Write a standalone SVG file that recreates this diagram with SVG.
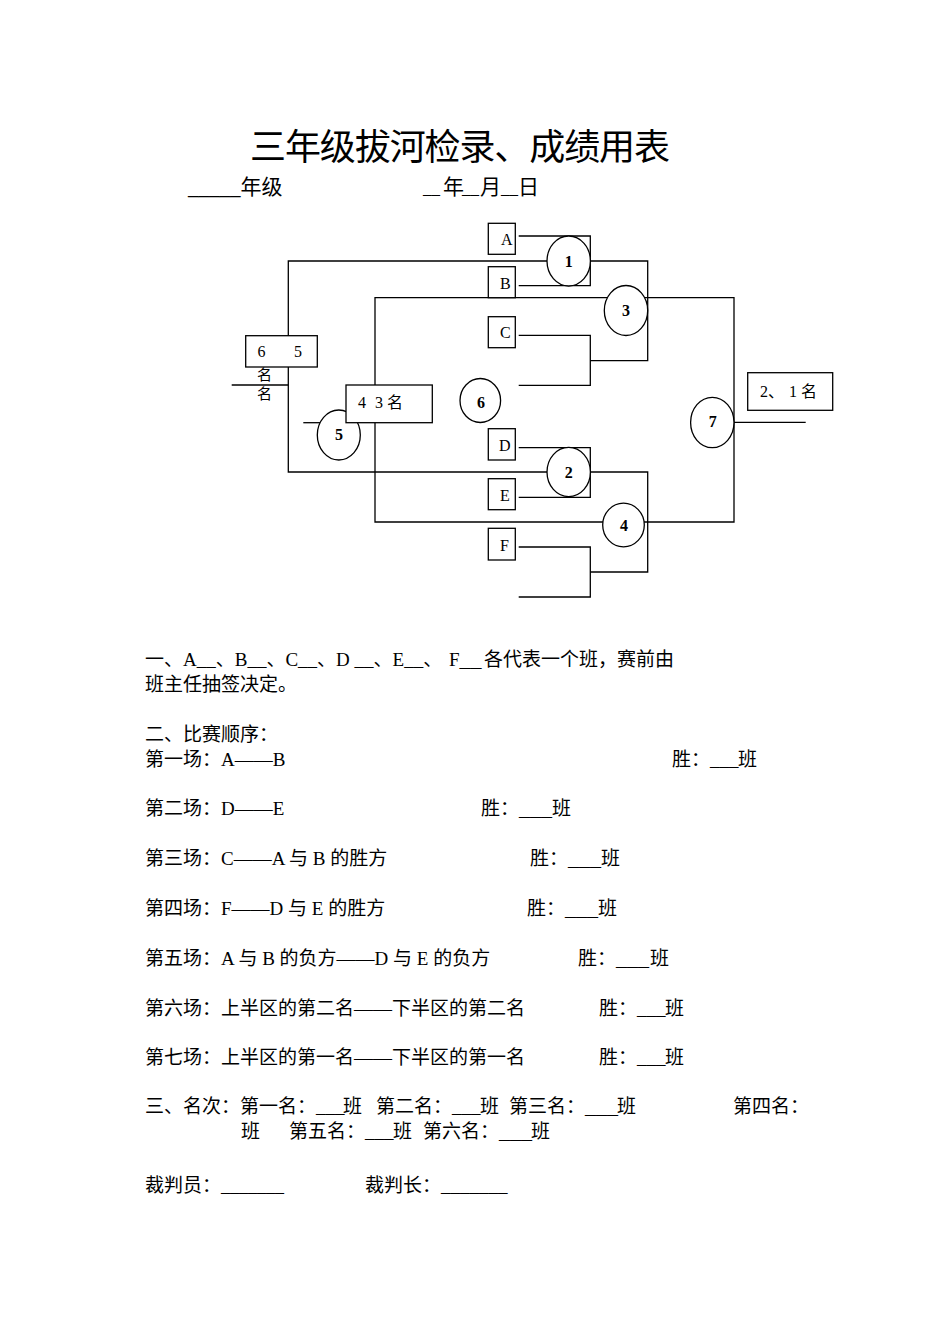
<svg xmlns="http://www.w3.org/2000/svg" width="950" height="1344" viewBox="0 0 950 1344">
<style>
.ln{fill:none;stroke:#000;stroke-width:1.3}
.bx{fill:#fff;stroke:#000;stroke-width:1.3}
.t{font-family:"Liberation Serif","Noto Sans CJK SC",serif;fill:#000}
.lbl{font-size:16px}
.num{font-size:16px;font-weight:bold;text-anchor:middle}
.body{font-size:19px}
</style>
<rect width="950" height="1344" fill="#fff"/>
<g id="header" class="t">
<text x="250" y="160" font-size="36" textLength="420" lengthAdjust="spacing">三年级拔河检录、成绩用表</text>
<text x="188" y="193.5" font-size="21">_____年级</text>
<text y="193.5" font-size="21"><tspan x="423" font-size="17">__</tspan><tspan x="443">年</tspan><tspan x="462" font-size="17">__</tspan><tspan x="480">月</tspan><tspan x="501" font-size="17">__</tspan><tspan x="518">日</tspan></text>
</g>
<g id="connectors" class="ln">
<path d="M518.7,236 H590.3 V285.7 H518.7"/>
<path d="M518.7,335.3 H590.3 V385.3 H518.7"/>
<path d="M590.3,360.7 H647.7 V261 H590.3"/>
<path d="M547,261 H288.3 V472 H547"/>
<path d="M231.7,385 H288.3"/>
<path d="M375,385 V297.7 H734 V522 H375 V422.7"/>
<path d="M734,422.3 H805.7"/>
<path d="M518.7,447.7 H590.3 V497.3 H518.7"/>
<path d="M590.3,472 H647.7 V572 H590.3"/>
<path d="M518.7,547 H590.3 V597 H518.7"/>
<path d="M303.3,422.7 H320"/>
</g>
<g id="team-A"><rect class="bx" x="488.3" y="223.3" width="27" height="31"/><text class="t lbl" x="501" y="245">A</text></g>
<g id="team-B"><rect class="bx" x="488.3" y="266.7" width="27" height="31"/><text class="t lbl" x="500" y="289">B</text></g>
<g id="team-C"><rect class="bx" x="488.3" y="316.7" width="27" height="31"/><text class="t lbl" x="500" y="338">C</text></g>
<g id="team-D"><rect class="bx" x="488.3" y="428.7" width="27" height="31.3"/><text class="t lbl" x="499" y="451">D</text></g>
<g id="team-E"><rect class="bx" x="488.3" y="478.7" width="27" height="31"/><text class="t lbl" x="500" y="501">E</text></g>
<g id="team-F"><rect class="bx" x="488.3" y="528.3" width="27" height="31.7"/><text class="t lbl" x="500" y="550.5">F</text></g>
<g id="match-1"><ellipse class="bx" cx="568.7" cy="261" rx="21.7" ry="25"/><text class="t num" x="568.7" y="266.5">1</text></g>
<g id="match-2"><ellipse class="bx" cx="568.7" cy="472" rx="21.7" ry="24.6"/><text class="t num" x="568.7" y="477.5">2</text></g>
<g id="match-3"><ellipse class="bx" cx="626" cy="310.5" rx="21.7" ry="25"/><text class="t num" x="626" y="316">3</text></g>
<g id="match-4"><ellipse class="bx" cx="623.5" cy="525" rx="20.8" ry="21.8"/><text class="t num" x="624" y="531">4</text></g>
<g id="match-6"><ellipse class="bx" cx="480.3" cy="400.5" rx="20.3" ry="22"/><text class="t num" x="481" y="408">6</text></g>
<g id="match-7"><ellipse class="bx" cx="712.3" cy="422.5" rx="21.7" ry="25.2"/><text class="t num" x="712.7" y="427">7</text></g>
<g id="match-5"><ellipse class="bx" cx="338.8" cy="435" rx="21.5" ry="25"/><text class="t num" x="339" y="440">5</text></g>
<g id="place-6-5"><rect class="bx" x="245.7" y="335.7" width="71.6" height="31.3"/><text class="t lbl" x="257.5" y="356.7">6<tspan x="294">5</tspan></text><text class="t" font-size="15" fill="#444" x="257" y="380">名</text><text class="t" font-size="15" fill="#444" x="257" y="399">名</text></g>
<g id="place-4-3"><rect class="bx" x="346" y="385" width="86.3" height="37.7"/><text class="t lbl" x="358" y="408">4 <tspan x="375">3 名</tspan></text></g>
<g id="place-2-1"><rect class="bx" x="747.7" y="372.7" width="85" height="37.6"/><text class="t lbl" x="760" y="396.5">2<tspan x="768">、</tspan><tspan x="789">1 名</tspan></text></g>
<g id="notes" class="t body">
<text y="666"><tspan x="145">一、A__、B__、C__、D __、E__、</tspan><tspan x="449">F</tspan><tspan font-size="22">__</tspan><tspan x="484">各代表一个班，赛前由</tspan></text>
<text x="145" y="691">班主任抽签决定。</text>
<text x="145" y="741">二、比赛顺序：</text>
<text x="145" y="766">第一场：A——B<tspan x="672">胜：___</tspan><tspan x="738">班</tspan></text>
<text x="145" y="815">第二场：D——E<tspan x="481">胜：</tspan><tspan font-size="22">___</tspan><tspan x="552">班</tspan></text>
<text x="145" y="865">第三场：C——A 与 B 的胜方<tspan x="530">胜：</tspan><tspan font-size="22">___</tspan><tspan x="601">班</tspan></text>
<text x="145" y="915">第四场：F——D 与 E 的胜方<tspan x="527">胜：</tspan><tspan font-size="22">___</tspan><tspan x="598">班</tspan></text>
<text x="145" y="965">第五场：A 与 B 的负方——D 与 E 的负方<tspan x="578">胜：</tspan><tspan font-size="22">___</tspan><tspan x="650">班</tspan></text>
<text x="145" y="1015">第六场：上半区的第二名——下半区的第二名<tspan x="599">胜：___</tspan><tspan x="665">班</tspan></text>
<text x="145" y="1064">第七场：上半区的第一名——下半区的第一名<tspan x="599">胜：___</tspan><tspan x="665">班</tspan></text>
<text x="145" y="1113">三、名次：第一名：___<tspan x="343">班</tspan><tspan x="376">第二名：___</tspan><tspan x="480">班</tspan><tspan x="509">第三名：</tspan><tspan font-size="22">___</tspan><tspan x="617">班</tspan><tspan x="733">第四名：</tspan></text>
<text y="1138"><tspan x="241">班</tspan><tspan x="289">第五名：___</tspan><tspan x="393">班</tspan><tspan x="423">第六名：</tspan><tspan font-size="22">___</tspan><tspan x="531">班</tspan></text>
<text x="145" y="1192">裁判员：<tspan font-size="18">_______</tspan><tspan x="365">裁判长：_______</tspan></text>
</g>
</svg>
